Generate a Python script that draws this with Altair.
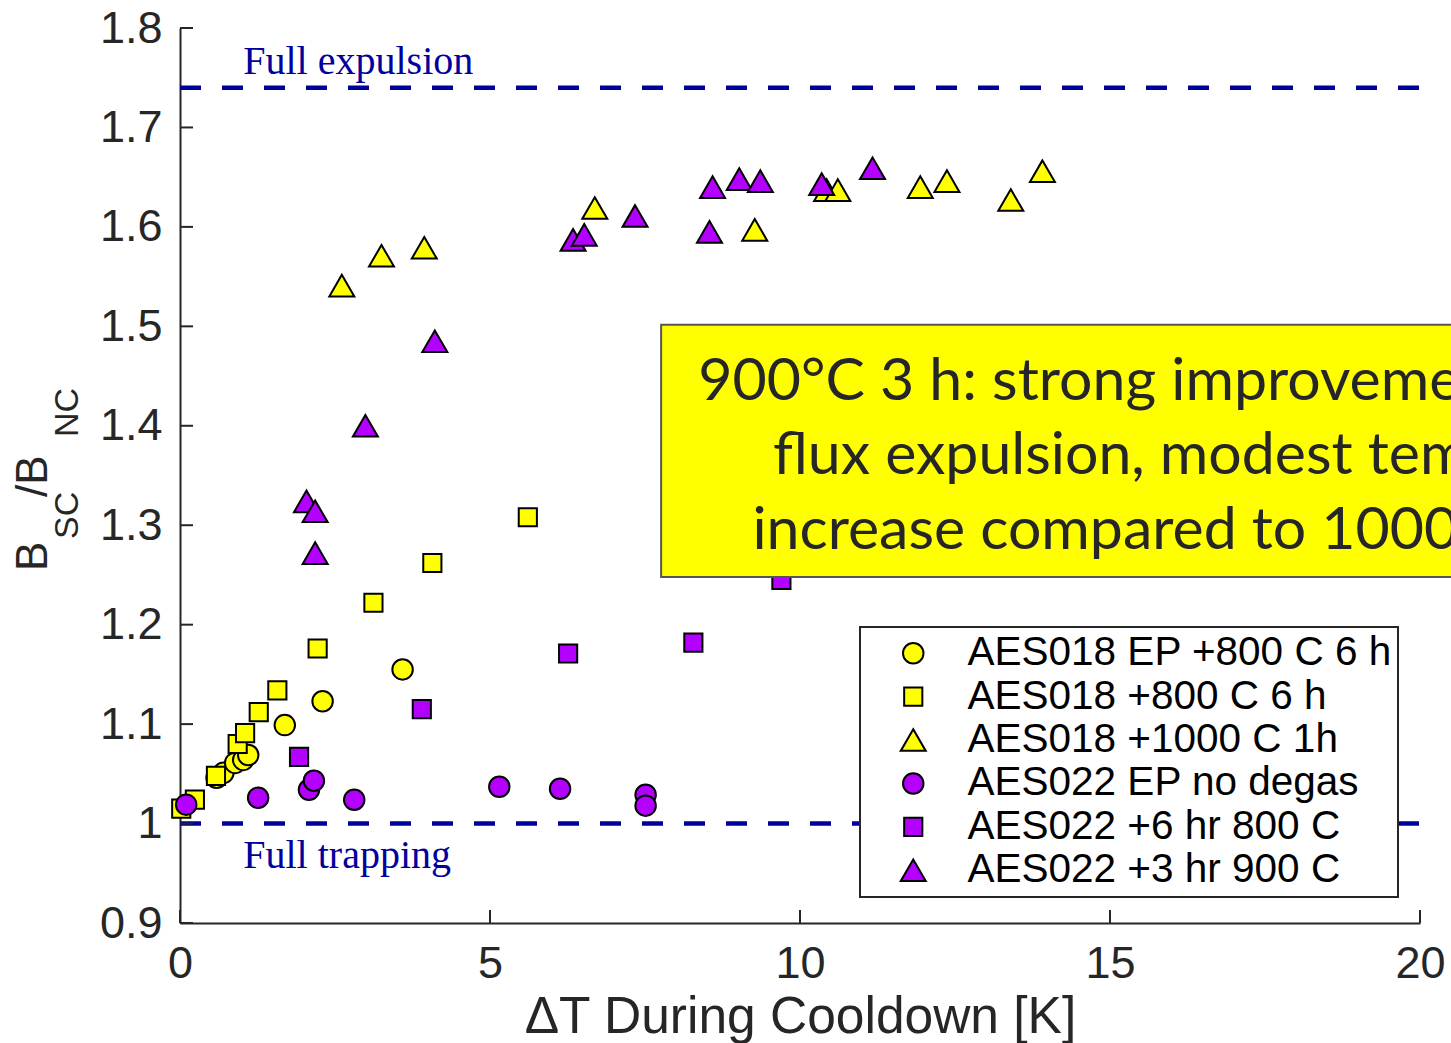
import altair as alt
import pandas as pd

# ---------------- data ----------------
SERIES = ["AES018 EP +800 C 6 h", "AES018 +800 C 6 h", "AES018 +1000 C 1h",
          "AES022 EP no degas", "AES022 +6 hr 800 C", "AES022 +3 hr 900 C"]
COLORS = ["#FFFF00", "#FFFF00", "#FFFF00", "#B300FF", "#B300FF", "#B300FF"]
SHAPES = ["circle", "square", "triangle-up", "circle", "square", "triangle-up"]
SIZES = [420, 330, 625, 420, 330, 625]

AES018_EP_X = [0.59, 0.70, 0.89, 1.02, 1.10, 1.69, 2.30, 3.59]
AES018_EP_Y = [1.046, 1.051, 1.061, 1.064, 1.069, 1.099, 1.123, 1.155]

AES018_800_X = [0.02, 0.24, 0.58, 0.93, 1.05, 1.27, 1.57, 2.22, 3.12, 4.07, 5.61]
AES018_800_Y = [1.015, 1.024, 1.048, 1.080, 1.091, 1.112, 1.134, 1.176, 1.222, 1.262, 1.308]

AES018_1000_X = [2.61, 3.25, 3.94, 6.69, 9.27, 10.43, 10.61, 11.94, 12.37, 13.40, 13.91]
AES018_1000_Y = [1.541, 1.571, 1.579, 1.619, 1.597, 1.637, 1.637, 1.640, 1.646, 1.627, 1.656]

AES022_EP_X = [0.10, 1.26, 2.08, 2.16, 2.81, 5.15, 6.13, 7.51, 7.51]
AES022_EP_Y = [1.019, 1.026, 1.034, 1.043, 1.024, 1.037, 1.035, 1.029, 1.018]

AES022_800_X = [1.92, 3.90, 6.26, 8.28, 9.70]
AES022_800_Y = [1.067, 1.115, 1.171, 1.182, 1.245]

AES022_900_X = [2.04, 2.18, 2.18, 2.99, 4.11, 6.34, 6.52, 7.34, 8.54, 8.59, 9.02, 9.36, 10.35, 11.17]
AES022_900_Y = [1.324, 1.314, 1.272, 1.400, 1.485, 1.587, 1.592, 1.611, 1.595, 1.640, 1.648, 1.646, 1.643, 1.659]

X_TICKS = [0, 5, 10, 15, 20]
Y_TICKS = [0.9, 1.0, 1.1, 1.2, 1.3, 1.4, 1.5, 1.6, 1.7, 1.8]

REF_LINES = [1.74, 1.0]
REF_LABELS = ["Full expulsion", "Full trapping"]
REF_LABEL_X = [1.02, 1.02]
REF_LABEL_Y = [1.7535, 0.9555]

NOTE_LINES = ["900°C 3 h: strong improvement in",
              "flux expulsion, modest temp",
              "increase compared to 1000°C"]
NOTE_X = 15.44
NOTE_Y = [1.426, 1.3515, 1.276]
BOX_X = [7.76, 23.0]
BOX_Y = [1.248, 1.5015]

YTITLE_MAIN = ["B", "/B"]
YTITLE_SUB = ["SC", "NC"]

# ---------------- frames ----------------
W, H = 1240, 895
rows = []
for name, xs, ys in zip(SERIES,
                        [AES018_EP_X, AES018_800_X, AES018_1000_X, AES022_EP_X, AES022_800_X, AES022_900_X],
                        [AES018_EP_Y, AES018_800_Y, AES018_1000_Y, AES022_EP_Y, AES022_800_Y, AES022_900_Y]):
    for xv, yv in zip(xs, ys):
        rows.append({"series": name, "dT": xv, "ratio": yv})
pts = pd.DataFrame(rows)

TXT = "#262626"
BLUE = "#00009C"
FONT = "Liberation Sans"

xscale = alt.Scale(domain=[0, 20], nice=False, zero=False)
yscale = alt.Scale(domain=[0.9, 1.8], nice=False, zero=False)

leg = alt.Legend(title=None, orient="none", legendX=680, legendY=599, direction="vertical",
                 labelFont=FONT, labelFontSize=40.5, labelColor="black", labelLimit=800,
                 symbolStrokeColor="black", symbolStrokeWidth=2, symbolOffset=27, labelOffset=34,
                 padding=6, rowPadding=2.4, strokeColor=TXT, fillColor="white")

points = alt.Chart(pts).mark_point(filled=True, opacity=1, stroke="black", strokeWidth=2).encode(
    x=alt.X("dT:Q", scale=xscale,
            axis=alt.Axis(values=X_TICKS, title="ΔT During Cooldown [K]", labelPadding=18,
                          labelFlush=False, titlePadding=5, format="d")),
    y=alt.Y("ratio:Q", scale=yscale,
            axis=alt.Axis(values=Y_TICKS, title=None, labelPadding=18, labelFlush=False,
                          format=".1~f")),
    color=alt.Color("series:N", scale=alt.Scale(domain=SERIES, range=COLORS), legend=leg),
    shape=alt.Shape("series:N", scale=alt.Scale(domain=SERIES, range=SHAPES), legend=leg),
    size=alt.Size("series:N", scale=alt.Scale(type="ordinal", domain=SERIES, range=SIZES), legend=leg),
)

ref_df = pd.DataFrame({"y": REF_LINES})
ref = alt.Chart(ref_df).mark_rule(color=BLUE, strokeWidth=4.5, strokeDash=[21, 21]).encode(
    y=alt.Y("y:Q", scale=yscale), x=alt.value(0), x2=alt.value(W))

ref_txt_df = pd.DataFrame({"x": REF_LABEL_X, "y": REF_LABEL_Y, "t": REF_LABELS})
ref_txt = alt.Chart(ref_txt_df).mark_text(font="Liberation Serif", fontSize=40, color=BLUE,
                                          align="left", baseline="alphabetic").encode(
    x=alt.X("x:Q", scale=xscale), y=alt.Y("y:Q", scale=yscale), text="t:N")

box_df = pd.DataFrame({"x": [BOX_X[0]], "x2": [BOX_X[1]], "y": [BOX_Y[0]], "y2": [BOX_Y[1]]})
box = alt.Chart(box_df).mark_rect(fill="#FFFF00", stroke="#555555", strokeWidth=2).encode(
    x=alt.X("x:Q", scale=xscale), x2="x2:Q", y=alt.Y("y:Q", scale=yscale), y2="y2:Q")

note_df = pd.DataFrame({"x": [NOTE_X] * 3, "y": NOTE_Y, "t": NOTE_LINES})
note = alt.Chart(note_df).mark_text(font="Lato", fontSize=59, color=TXT, align="center",
                                    baseline="alphabetic").encode(
    x=alt.X("x:Q", scale=xscale), y=alt.Y("y:Q", scale=yscale), text="t:N")

# inward ticks
yt = alt.Chart(pd.DataFrame({"v": Y_TICKS})).mark_rule(color=TXT, strokeWidth=2).encode(
    y=alt.Y("v:Q", scale=yscale), x=alt.value(0), x2=alt.value(13))
xt = alt.Chart(pd.DataFrame({"v": X_TICKS})).mark_rule(color=TXT, strokeWidth=2).encode(
    x=alt.X("v:Q", scale=xscale), y=alt.value(H), y2=alt.value(H - 13))

# y-axis title with subscripts
yt_main = alt.Chart(pd.DataFrame({"t": YTITLE_MAIN, "px": [-133, -133], "py": [543, 469]})).mark_text(
    font=FONT, fontSize=44, color=TXT, angle=270, align="left", baseline="alphabetic").encode(
    x=alt.X("px:Q", scale=None), y=alt.Y("py:Q", scale=None), text="t:N")
yt_sub = alt.Chart(pd.DataFrame({"t": YTITLE_SUB, "px": [-102, -102], "py": [511, 409]})).mark_text(
    font=FONT, fontSize=34, color=TXT, angle=270, align="left", baseline="alphabetic").encode(
    x=alt.X("px:Q", scale=None), y=alt.Y("py:Q", scale=None), text="t:N")

chart = alt.layer(ref, ref_txt, points, box, note, yt, xt, yt_main, yt_sub).properties(
    width=W, height=H,
    autosize=alt.AutoSizeParams(type="none"),
    padding={"left": 180, "top": 28, "right": 31, "bottom": 120},
).configure_view(stroke=None).configure_axis(
    grid=False, ticks=False, tickSize=0, domainColor=TXT, domainWidth=2,
    labelFont=FONT, labelFontSize=45, labelColor=TXT,
    titleFont=FONT, titleFontSize=51.5, titleFontWeight="normal", titleColor=TXT,
).configure_legend(strokeWidth=2)

chart.save("out.html", embed_options={"renderer": "svg", "actions": False})
